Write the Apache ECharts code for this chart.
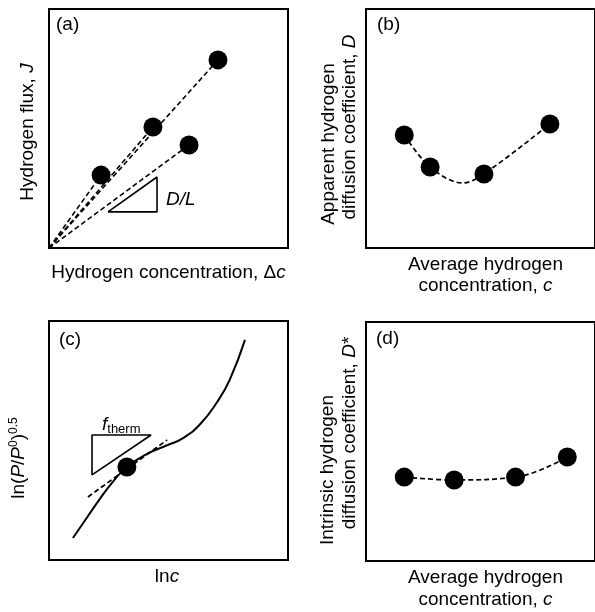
<!DOCTYPE html>
<html>
<head>
<meta charset="utf-8">
<script src="https://cdn.jsdelivr.net/npm/echarts@6/dist/echarts.min.js"></script>
<style>
html,body{margin:0;padding:0;background:#fff;}
#chart{width:595px;height:612px;}
</style>
</head>
<body>
<div id="chart"></div>
<script>
// ---- Data (all panels use a 0–100 schematic scale, no tick labels) ----
// (a) flux vs concentration: measured points and the origin they are joined to
const fluxOrigin = [0, 0];
const fluxPoints = [[70.7, 78.7], [43.5, 50.6], [58.6, 43.1], [21.8, 30.5]];
const slopeTriangleA = [[24.7, 15.1], [45.2, 29.7], [45.2, 15.1], [24.7, 15.1]];
// (b) apparent diffusion coefficient vs average concentration
const apparentD = [[16.7, 47.3], [28.0, 33.9], [51.5, 31.0], [80.3, 51.9]];
// dashed guide curve through (b) (dips below the 2nd/3rd points)
const apparentTrend = [[16.7, 47.3], [28.0, 33.9], [42.3, 27.2], [51.5, 31.0], [80.3, 51.9]];
// (c) ln(P/P0)^0.5 vs ln c isotherm
const isotherm = [[10.0, 9.2], [15.9, 17.8], [21.3, 25.6], [26.8, 32.8], [32.6, 38.9], [41.0, 44.4], [49.4, 48.0], [56.1, 51.0], [63.2, 56.8], [70.3, 66.0], [75.7, 75.6], [82.0, 92.1]];
const tangent = [[16.3, 26.4], [49.4, 50.2]];
const tangentPoint = [[32.6, 38.9]];
const slopeTriangleC = [[18.0, 35.6], [18.0, 52.3], [42.7, 52.3], [18.0, 35.6]];
// (d) intrinsic diffusion coefficient vs average concentration
const intrinsicD = [[16.7, 35.1], [38.5, 33.9], [65.3, 35.1], [87.9, 43.5]];

// ---- Texts ----
const panelLabels = ['(a)', '(b)', '(c)', '(d)'];

const FONT = '"Liberation Sans", Arial, Helvetica, sans-serif';
const chart = echarts.init(document.getElementById('chart'), null, {renderer: 'canvas'});

const grids = [
  {left: 49, top: 9, width: 239, height: 239},
  {left: 366, top: 9, width: 239, height: 239},
  {left: 49, top: 321, width: 239, height: 239},
  {left: 366, top: 322, width: 239, height: 239}
].map(g => Object.assign({show: true, borderColor: '#000', borderWidth: 2, backgroundColor: 'transparent', containLabel: false}, g));

const axisBase = {type: 'value', min: 0, max: 100, show: false, splitLine: {show: false}};
const xAxes = [0, 1, 2, 3].map(i => Object.assign({gridIndex: i}, axisBase));
const yAxes = [0, 1, 2, 3].map(i => Object.assign({gridIndex: i}, axisBase));

const dash = [5, 3];
const dot = {color: '#000', opacity: 1};
const series = [];
// (a) dashed rays from origin
fluxPoints.forEach(p => {
  series.push({type: 'line', xAxisIndex: 0, yAxisIndex: 0, data: [fluxOrigin, p], symbol: 'none',
    lineStyle: {color: '#000', width: 1.6, type: dash}, silent: true, z: 2});
});
series.push({type: 'scatter', xAxisIndex: 0, yAxisIndex: 0, data: fluxPoints, symbol: 'circle', symbolSize: 19,
  itemStyle: dot, z: 3});
series.push({type: 'line', xAxisIndex: 0, yAxisIndex: 0, data: slopeTriangleA, symbol: 'none',
  lineStyle: {color: '#000', width: 1.6}, z: 2});
// (b)
series.push({type: 'line', xAxisIndex: 1, yAxisIndex: 1, data: apparentTrend, smooth: 0.35, symbol: 'none',
  lineStyle: {color: '#000', width: 1.7, type: dash}, z: 2});
series.push({type: 'scatter', xAxisIndex: 1, yAxisIndex: 1, data: apparentD, symbol: 'circle', symbolSize: 19,
  itemStyle: dot, z: 3});
// (c)
series.push({type: 'line', xAxisIndex: 2, yAxisIndex: 2, data: isotherm, smooth: 0.5, symbol: 'none',
  lineStyle: {color: '#000', width: 2}, z: 2});
series.push({type: 'line', xAxisIndex: 2, yAxisIndex: 2, data: tangent, symbol: 'none',
  lineStyle: {color: '#000', width: 1.8, type: dash}, z: 2});
series.push({type: 'scatter', xAxisIndex: 2, yAxisIndex: 2, data: tangentPoint, symbol: 'circle', symbolSize: 19,
  itemStyle: dot, z: 3});
series.push({type: 'line', xAxisIndex: 2, yAxisIndex: 2, data: slopeTriangleC, symbol: 'none',
  lineStyle: {color: '#000', width: 1.6}, z: 2});
// (d)
series.push({type: 'line', xAxisIndex: 3, yAxisIndex: 3, data: intrinsicD, smooth: 0.4, symbol: 'circle', symbolSize: 19,
  itemStyle: dot, lineStyle: {color: '#000', width: 1.7, type: dash}, z: 3});

const richBase = {
  n: {fontSize: 19, fontFamily: FONT, fill: '#000', lineHeight: 22},
  i: {fontSize: 19, fontFamily: FONT, fontStyle: 'italic', fill: '#000', lineHeight: 22},
  sup: {fontSize: 12, fontFamily: FONT, fill: '#000', lineHeight: 12, verticalAlign: 'top'},
  sub: {fontSize: 13, fontFamily: FONT, fill: '#000', lineHeight: 13, verticalAlign: 'bottom'}
};
function txt(text, x, y, opts) {
  opts = opts || {};
  return {
    type: 'text', x: x, y: y, rotation: opts.rot ? Math.PI / 2 : 0, z: 10,
    style: {text: text, rich: richBase, fontSize: 19, fontFamily: FONT, fill: '#000',
      align: opts.align || 'center', verticalAlign: 'middle'}
  };
}

const graphic = [
  txt('{n|' + panelLabels[0] + '}', 56, 25, {align: 'left'}),
  txt('{n|' + panelLabels[1] + '}', 377, 25, {align: 'left'}),
  txt('{n|' + panelLabels[2] + '}', 59, 340, {align: 'left'}),
  txt('{n|' + panelLabels[3] + '}', 376, 339, {align: 'left'}),
  // (a)
  txt('{n|Hydrogen flux, }{i|J}', 28, 132, {rot: true}),
  txt('{n|Hydrogen concentration, Δ}{i|c}', 168.5, 273),
  txt('{i|D/L}', 166, 200, {align: 'left'}),
  // (b)
  txt('{n|Apparent hydrogen}', 329, 144, {rot: true}),
  txt('{n|diffusion coefficient, }{i|D}', 350, 127, {rot: true}),
  txt('{n|Average hydrogen}', 485.5, 265),
  txt('{n|concentration, }{i|c}', 485.5, 286),
  // (c)
  txt('{n|ln(}{i|P}{n|/}{i|P}{sup|0}{n|)}{sup|0.5}', 19, 458, {rot: true}),
  txt('{n|ln}{i|c}', 167, 577),
  txt('{i|f}{sub|therm}', 102, 425, {align: 'left'}),
  // (d)
  txt('{n|Intrinsic hydrogen}', 328, 470, {rot: true}),
  txt('{n|diffusion coefficient, }{i|D}{n|*}', 350, 433, {rot: true}),
  txt('{n|Average hydrogen}', 485.5, 578),
  txt('{n|concentration, }{i|c}', 485.5, 600)
];

chart.setOption({
  animation: false,
  backgroundColor: '#fff',
  grid: grids,
  xAxis: xAxes,
  yAxis: yAxes,
  series: series,
  graphic: graphic
});
</script>
</body>
</html>
